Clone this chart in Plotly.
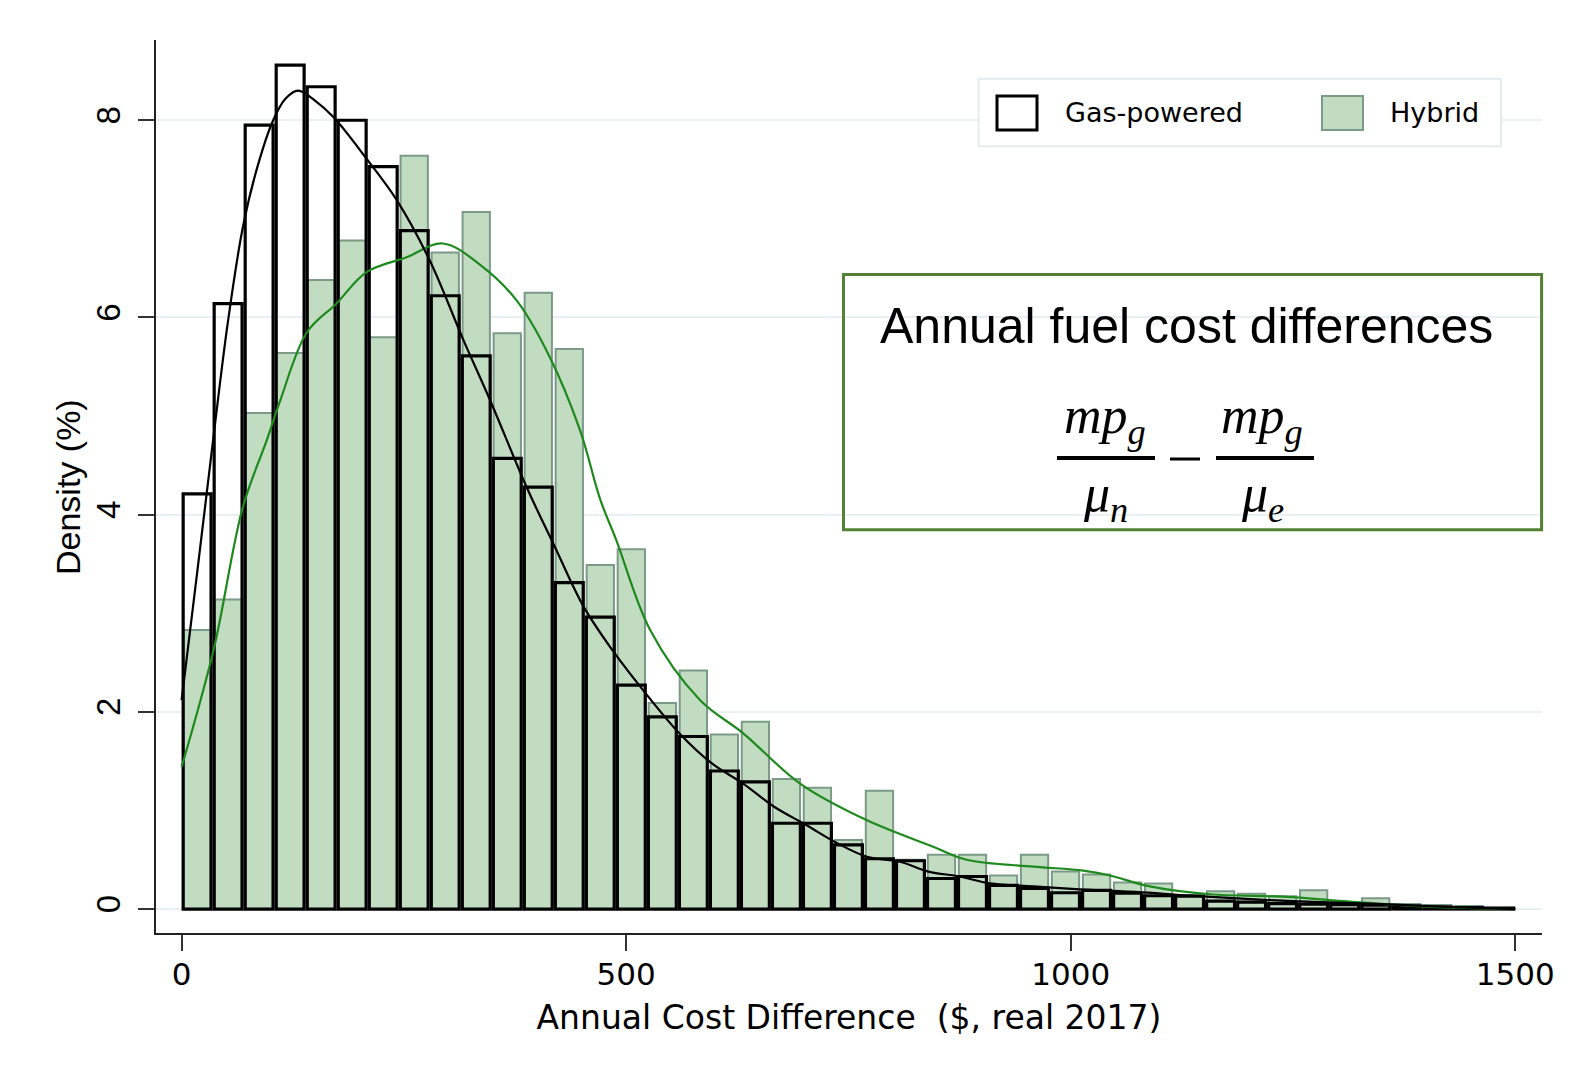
import numpy as np
import plotly.graph_objects as go

# ---------------- data ----------------
x_min, x_max, n_bins = 0, 1500, 43
gas_density = [4.21, 6.14, 7.95, 8.56, 8.34, 8.00, 7.53, 6.88, 6.22, 5.61, 4.57, 4.28, 3.31,
               2.96, 2.27, 1.95, 1.75, 1.40, 1.29, 0.87, 0.87, 0.65, 0.51, 0.49, 0.31, 0.33,
               0.24, 0.21, 0.165, 0.19, 0.16, 0.135, 0.13, 0.08, 0.07, 0.055, 0.05, 0.045,
               0.04, 0.03, 0.02, 0.015, 0.01]
hybrid_density = [2.83, 3.14, 5.03, 5.64, 6.38, 6.78, 5.80, 7.64, 6.66, 7.07, 5.84, 6.25, 5.68,
                  3.49, 3.65, 2.09, 2.42, 1.77, 1.90, 1.32, 1.23, 0.70, 1.20, 0.50, 0.55, 0.55,
                  0.34, 0.55, 0.38, 0.35, 0.27, 0.26, 0.14, 0.18, 0.155, 0.13, 0.19, 0.07,
                  0.11, 0.05, 0.04, 0.03, 0.01]

gas_kde_x = [0, 18, 36, 52, 69, 86, 103, 117, 131, 150, 171, 208, 242, 279, 317, 347, 388, 420,
             452, 485, 519, 560, 596, 632, 666, 703, 737, 771, 808, 840, 875, 909, 958, 1010,
             1080, 1153, 1250, 1351, 1430, 1500]
gas_kde_y = [2.12, 3.45, 4.80, 5.95, 6.92, 7.55, 8.00, 8.22, 8.30, 8.20, 8.03, 7.61, 7.19, 6.58,
             5.77, 5.16, 4.28, 3.67, 3.07, 2.62, 2.22, 1.78, 1.48, 1.27, 1.04, 0.85, 0.67, 0.53,
             0.48, 0.38, 0.33, 0.26, 0.23, 0.20, 0.17, 0.125, 0.08, 0.05, 0.02, 0.0]
hyb_kde_x = [0, 36, 69, 96, 111, 141, 174, 208, 253, 294, 339, 377, 414, 448, 471, 489, 527, 583,
             632, 696, 771, 846, 883, 958, 1014, 1044, 1089, 1157, 1239, 1314, 1389, 1450, 1500]
hyb_kde_y = [1.44, 2.63, 4.08, 4.76, 5.16, 5.85, 6.14, 6.46, 6.61, 6.75, 6.51, 6.17, 5.60, 4.86,
             4.15, 3.74, 2.83, 2.12, 1.78, 1.27, 0.90, 0.63, 0.50, 0.43, 0.39, 0.34, 0.23, 0.15,
             0.125, 0.075, 0.03, 0.01, 0.0]

y_ticks = [0, 2, 4, 6, 8]
x_ticks = [0, 500, 1000, 1500]
x_title = "Annual Cost Difference  ($, real 2017)"
y_title = "Density (%)"
legend_labels = ["Gas-powered", "Hybrid"]
box_title = "Annual fuel cost differences"

# ---------------- layout geometry ----------------
W, H = 1582, 1081
L, T, R, B = 156, 40, 40, 148
PW, PH = W - L - R, H - T - B


def px(x):
    return (x - L) / PW


def py(y):
    return (H - B - y) / PH


bin_w = (x_max - x_min) / n_bins
centers = x_min + bin_w * (np.arange(n_bins) + 0.5)

GREEN_FILL = "#c1dcc1"
GREEN_EDGE = "#7b9a88"
GRID = "#e8f0f2"

fig = go.Figure()
fig.add_trace(go.Bar(x=centers, y=hybrid_density, name=legend_labels[1], width=bin_w * 0.88,
                     marker=dict(color=GREEN_FILL, line=dict(color=GREEN_EDGE, width=2)),
                     showlegend=False))
fig.add_trace(go.Bar(x=centers, y=gas_density, name=legend_labels[0], width=bin_w * 0.9,
                     marker=dict(color="rgba(0,0,0,0)", line=dict(color="#000000", width=3.2)),
                     showlegend=False))
fig.add_trace(go.Scatter(x=hyb_kde_x, y=hyb_kde_y, mode="lines", line_shape="spline",
                         line=dict(color="#1e8a1e", width=2.2), showlegend=False))
fig.add_trace(go.Scatter(x=gas_kde_x, y=gas_kde_y, mode="lines", line_shape="spline",
                         line=dict(color="#000000", width=2.2), showlegend=False))

fig.update_layout(
    width=W, height=H,
    margin=dict(l=L, r=R, t=T, b=B, pad=0),
    paper_bgcolor="white", plot_bgcolor="white",
    barmode="overlay",
    font=dict(family="DejaVu Sans", color="black"),
)

fig.update_xaxes(
    range=[-28.8, 1530.1], tickvals=x_ticks, showgrid=False, zeroline=False,
    showline=True, linecolor="#222222", linewidth=2,
    ticks="outside", ticklen=16, tickwidth=2, tickcolor="#333333",
    tickfont=dict(family="DejaVu Sans", size=31, color="black"),
    ticklabelstandoff=-3,
    title=dict(text=x_title, font=dict(family="DejaVu Sans", size=33, color="black"), standoff=15),
)
fig.update_yaxes(
    range=[-0.243, 8.814], tickvals=y_ticks, showgrid=True, gridcolor=GRID, gridwidth=2,
    zeroline=False, showline=True, linecolor="#222222", linewidth=2,
    ticks="outside", ticklen=16, tickwidth=2, tickcolor="#333333", tickangle=-90,
    tickfont=dict(family="Liberation Sans, Arial", size=33, color="black"),
    ticklabelstandoff=5,
)

shapes = []
annotations = []

# y-axis title
annotations.append(dict(xref="paper", yref="paper", x=px(68), y=py(487), xanchor="center",
                        yanchor="middle", showarrow=False, textangle=-90, text=y_title,
                        font=dict(family="Liberation Sans, Arial", size=34, color="black")))

# legend (drawn manually to reproduce the large key boxes)
shapes.append(dict(type="rect", xref="paper", yref="paper", layer="above",
                   x0=px(978.6), x1=px(1501), y0=py(146.3), y1=py(78.7),
                   line=dict(color="#e3ecec", width=2), fillcolor="white"))
shapes.append(dict(type="rect", xref="paper", yref="paper", layer="above",
                   x0=px(997), x1=px(1037), y0=py(130), y1=py(96),
                   line=dict(color="black", width=3), fillcolor="white"))
shapes.append(dict(type="rect", xref="paper", yref="paper", layer="above",
                   x0=px(1322), x1=px(1363), y0=py(130), y1=py(96),
                   line=dict(color=GREEN_EDGE, width=2), fillcolor=GREEN_FILL))
annotations.append(dict(xref="paper", yref="paper", x=px(1063), y=py(113), xanchor="left",
                        yanchor="middle", showarrow=False, text=legend_labels[0],
                        font=dict(family="DejaVu Sans", size=27, color="black")))
annotations.append(dict(xref="paper", yref="paper", x=px(1388), y=py(113), xanchor="left",
                        yanchor="middle", showarrow=False, text=legend_labels[1],
                        font=dict(family="DejaVu Sans", size=27, color="black")))

# formula box
shapes.append(dict(type="rect", xref="paper", yref="paper", layer="above",
                   x0=px(843.5), x1=px(1541.6), y0=py(529.7), y1=py(274.4),
                   line=dict(color="#548235", width=3), fillcolor="rgba(0,0,0,0)"))
annotations.append(dict(xref="paper", yref="paper", x=px(1186.5), y=py(326), xanchor="center",
                        yanchor="middle", showarrow=False, text=box_title,
                        font=dict(family="Liberation Sans, Arial", size=50, color="black")))

MATH_FONT = dict(family="Liberation Serif, DejaVu Serif", size=52, color="black")
for cx, sub in [(1105, "n"), (1262, "e")]:
    annotations.append(dict(xref="paper", yref="paper", x=px(cx), y=py(420), xanchor="center",
                            yanchor="middle", showarrow=False,
                            text="<i>mp</i><sub><i>g</i></sub>", font=MATH_FONT))
    annotations.append(dict(xref="paper", yref="paper", x=px(cx), y=py(498), xanchor="center",
                            yanchor="middle", showarrow=False,
                            text="<i>\u03bc</i><sub><i>%s</i></sub>" % sub, font=MATH_FONT))
for x0, x1 in [(1057, 1155), (1216, 1314)]:
    shapes.append(dict(type="line", xref="paper", yref="paper", layer="above",
                       x0=px(x0), x1=px(x1), y0=py(458), y1=py(458),
                       line=dict(color="black", width=4)))
shapes.append(dict(type="line", xref="paper", yref="paper", layer="above",
                   x0=px(1170), x1=px(1200), y0=py(459), y1=py(459),
                   line=dict(color="black", width=3)))

fig.update_layout(shapes=shapes, annotations=annotations)

fig.write_html("out.html", config={"displayModeBar": False},
               post_script="document.body.style.margin='0';document.body.style.overflow='hidden';")
